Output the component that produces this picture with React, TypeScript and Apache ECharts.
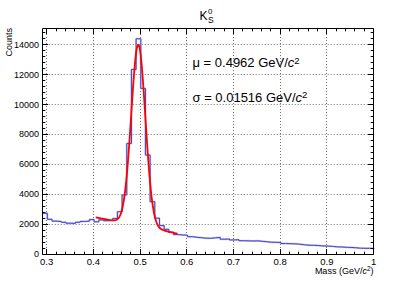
import React, { useEffect, useRef } from 'react';
import * as echarts from 'echarts';

// ---- data ----
const binLow = 0.2915;
const binWidth = 0.01;
const counts = [
  2720, 2320, 2200, 2170, 2120, 2060, 2050, 2120, 2180, 2200,
  2300, 2150, 2280, 2230, 2260, 2380, 2830, 3950, 7400, 12350,
  14400, 11080, 6620, 3500, 2400, 1900, 1650, 1450, 1300, 1270,
  1260, 1160, 1120, 1090, 1060, 1050, 1080, 1110, 990, 1000,
  940, 960, 890, 880, 870, 880, 850, 820, 790, 780,
  770, 700, 690, 680, 660, 620, 590, 580, 570, 540,
  530, 510, 480, 470, 450, 440, 420, 390, 380, 380,
  370,
];
const fitMass = [
  0.405, 0.415, 0.425, 0.435, 0.445, 0.45, 0.455, 0.46, 0.465, 0.47,
  0.475, 0.48, 0.485, 0.49, 0.493, 0.4962, 0.499, 0.502, 0.505, 0.51,
  0.515, 0.52, 0.525, 0.53, 0.535, 0.54, 0.545, 0.55, 0.56, 0.57, 0.58,
];
const fitValue = [
  2450, 2390, 2330, 2270, 2250, 2295, 2445, 2810, 3545, 4775,
  6580, 8835, 11180, 13070, 13755, 14000, 13790, 13110, 12075, 9810,
  7395, 5290, 3720, 2710, 2120, 1815, 1670, 1590, 1500, 1435, 1360,
];
const xTickValues = [0.3, 0.4, 0.5, 0.6, 0.7, 0.8, 0.9, 1.0];
const xTickLabels = ['0.3', '0.4', '0.5', '0.6', '0.7', '0.8', '0.9', '1'];
const yTickValues = [0, 2000, 4000, 6000, 8000, 10000, 12000, 14000];
const yTickLabels = ['0', '2000', '4000', '6000', '8000', '10000', '12000', '14000'];
const xMinorStep = 0.02;
const yMinorStep = 400;
const xMin = 0.2915;
const xMax = 1.0;
const yMin = 0;
const yMax = 15120;

const FONT = '"Liberation Sans", Arial, Helvetica, sans-serif';

const xMinor: number[] = [];
for (let k = 0; 0.3 + k * xMinorStep <= xMax + 1e-9; k++) {
  const v = Math.round((0.3 + k * xMinorStep) * 1000) / 1000;
  if (!xTickValues.some((t) => Math.abs(t - v) < 1e-6)) xMinor.push(v);
}
const yMinor: number[] = [];
for (let v = yMinorStep; v < yMax; v += yMinorStep) {
  if (!yTickValues.includes(v)) yMinor.push(v);
}

const histData: number[][] = counts.map((c, i) => [binLow + i * binWidth, c]);
histData.push([binLow + counts.length * binWidth, counts[counts.length - 1]]);
const fitData = fitMass.map((m, i) => [m, fitValue[i]]);

const crisp = (v: number) => Math.round(v - 0.5) + 0.5;

function renderGridLines(_params: any, api: any) {
  const children: any[] = [];
  const yb = api.coord([xMin, yMin])[1];
  const yt = api.coord([xMin, yMax])[1];
  const xl = api.coord([xMin, yMin])[0];
  const xr = api.coord([xMax, yMin])[0];
  const gs = { stroke: '#707070', lineWidth: 1, lineDash: [1, 2] };
  xTickValues.forEach((v) => {
    if (v > xMin && v < xMax) {
      const x = crisp(api.coord([v, yMin])[0]);
      children.push({ type: 'line', shape: { x1: x, y1: yt, x2: x, y2: yb }, style: gs });
    }
  });
  yTickValues.forEach((v) => {
    if (v > yMin && v < yMax) {
      const y = crisp(api.coord([xMin, v])[1]);
      children.push({ type: 'line', shape: { x1: xl, y1: y, x2: xr, y2: y }, style: gs });
    }
  });
  return { type: 'group', children };
}

function renderFrame(_params: any, api: any) {
  const children: any[] = [];
  const yb = crisp(api.coord([xMin, yMin])[1]);
  const yt = crisp(api.coord([xMin, yMax])[1]);
  const xl = crisp(api.coord([xMin, yMin])[0]);
  const xr = crisp(api.coord([xMax, yMin])[0]);
  const ls = { stroke: '#000', lineWidth: 1 };
  children.push({ type: 'rect', shape: { x: xl, y: yt, width: xr - xl, height: yb - yt }, style: { stroke: '#000', fill: 'none', lineWidth: 1 } });
  const major = 5.5;
  const minor = 2.8;
  const xt = (v: number, len: number) => {
    const x = crisp(api.coord([v, yMin])[0]);
    children.push({ type: 'line', shape: { x1: x, y1: yb, x2: x, y2: yb - len }, style: ls });
    children.push({ type: 'line', shape: { x1: x, y1: yt, x2: x, y2: yt + len }, style: ls });
  };
  const ytk = (v: number, len: number) => {
    const y = crisp(api.coord([xMin, v])[1]);
    children.push({ type: 'line', shape: { x1: xl, y1: y, x2: xl + len, y2: y }, style: ls });
    children.push({ type: 'line', shape: { x1: xr, y1: y, x2: xr - len, y2: y }, style: ls });
  };
  xTickValues.forEach((v) => xt(v, major));
  xMinor.forEach((v) => xt(v, minor));
  yTickValues.forEach((v) => ytk(v, major));
  yMinor.forEach((v) => ytk(v, minor));
  xTickValues.forEach((v, i) => {
    const x = api.coord([v, yMin])[0];
    children.push({
      type: 'text', x, y: yb + 1.5,
      style: { text: xTickLabels[i], fill: '#000', fontSize: 9.5, fontFamily: FONT, align: 'center', verticalAlign: 'top', textAlign: 'center', textVerticalAlign: 'top' },
    });
  });
  yTickValues.forEach((v, i) => {
    const y = api.coord([xMin, v])[1];
    children.push({
      type: 'text', x: xl - 3.5, y,
      style: { text: yTickLabels[i], fill: '#000', fontSize: 9, fontFamily: FONT, align: 'right', verticalAlign: 'middle', textAlign: 'right', textVerticalAlign: 'middle' },
    });
  });
  return { type: 'group', children };
}

const option: any = {
  animation: false,
  grid: { left: 42.7, right: 41.4, top: 28, bottom: 29, show: false },
  xAxis: { type: 'value', min: xMin, max: xMax, show: false },
  yAxis: { type: 'value', min: yMin, max: yMax, show: false },
  graphic: [
    { type: 'text', x: 199.5, y: 15.8, style: { text: 'K', fontSize: 12, fontFamily: FONT, fill: '#000', align: 'left', verticalAlign: 'middle', textAlign: 'left', textVerticalAlign: 'middle' } },
    { type: 'text', x: 208, y: 11.2, style: { text: '0', fontSize: 8, fontFamily: FONT, fill: '#000', align: 'left', verticalAlign: 'middle', textAlign: 'left', textVerticalAlign: 'middle' } },
    { type: 'text', x: 208, y: 19.8, style: { text: 'S', fontSize: 8.5, fontFamily: FONT, fill: '#000', align: 'left', verticalAlign: 'middle', textAlign: 'left', textVerticalAlign: 'middle' } },
    {
      type: 'text', x: 192.5, y: 62.5,
      style: {
        text: '{n|μ = 0.4962 GeV/}{i|c}{s|2}', fontFamily: FONT, fill: '#000', align: 'left', verticalAlign: 'middle', textAlign: 'left', textVerticalAlign: 'middle',
        rich: {
          n: { fontSize: 13, fontFamily: FONT, lineHeight: 15, fill: '#000' },
          i: { fontSize: 13, fontFamily: FONT, fontStyle: 'italic', lineHeight: 15, fill: '#000' },
          s: { fontSize: 9.5, fontFamily: FONT, lineHeight: 12, verticalAlign: 'top', fill: '#000' },
        },
      },
    },
    {
      type: 'text', x: 192.5, y: 97,
      style: {
        text: '{n|σ = 0.01516 GeV/}{i|c}{s|2}', fontFamily: FONT, fill: '#000', align: 'left', verticalAlign: 'middle', textAlign: 'left', textVerticalAlign: 'middle',
        rich: {
          n: { fontSize: 13, fontFamily: FONT, lineHeight: 15, fill: '#000' },
          i: { fontSize: 13, fontFamily: FONT, fontStyle: 'italic', lineHeight: 15, fill: '#000' },
          s: { fontSize: 9.5, fontFamily: FONT, lineHeight: 12, verticalAlign: 'top', fill: '#000' },
        },
      },
    },
    {
      type: 'text', x: 373.5, y: 270.5,
      style: {
        text: '{n|Mass (GeV/}{i|c}{s|2}{n|)}', fontFamily: FONT, fill: '#000', align: 'right', verticalAlign: 'middle', textAlign: 'right', textVerticalAlign: 'middle',
        rich: {
          n: { fontSize: 9, fontFamily: FONT, lineHeight: 11, fill: '#000' },
          i: { fontSize: 9, fontFamily: FONT, fontStyle: 'italic', lineHeight: 11, fill: '#000' },
          s: { fontSize: 6.5, fontFamily: FONT, lineHeight: 8, verticalAlign: 'top', fill: '#000' },
        },
      },
    },
    {
      type: 'text', x: 9, y: 28, rotation: Math.PI / 2,
      style: { text: 'Counts', fontSize: 9, fontFamily: FONT, fill: '#000', align: 'right', verticalAlign: 'middle', textAlign: 'right', textVerticalAlign: 'middle' },
    },
  ],
  series: [
    { type: 'custom', coordinateSystem: 'cartesian2d', data: [[xMin, yMin]], renderItem: renderGridLines, z: 1, silent: true },
    {
      type: 'line', data: histData, step: 'end', symbol: 'none', z: 2, silent: true,
      lineStyle: { color: '#c3c5ef', width: 2 },
    },
    {
      type: 'line', data: histData, step: 'end', symbol: 'none', z: 3, silent: true,
      lineStyle: { color: '#4343c4', width: 1 },
    },
    {
      type: 'line', data: fitData, smooth: 0.25, symbol: 'none', z: 4, silent: true,
      lineStyle: { color: '#ff0000', width: 1.8 },
    },
    { type: 'custom', coordinateSystem: 'cartesian2d', data: [[xMin, yMin]], renderItem: renderFrame, z: 5, silent: true },
  ],
};

export default function App() {
  const ref = useRef<HTMLDivElement>(null);
  useEffect(() => {
    const chart = echarts.init(ref.current as HTMLDivElement, null, { renderer: 'svg' });
    chart.setOption(option);
    return () => chart.dispose();
  }, []);
  return (
    <div
      ref={ref}
      style={{ position: 'fixed', left: 0, top: 0, width: 415, height: 283, background: '#fff' }}
    />
  );
}
